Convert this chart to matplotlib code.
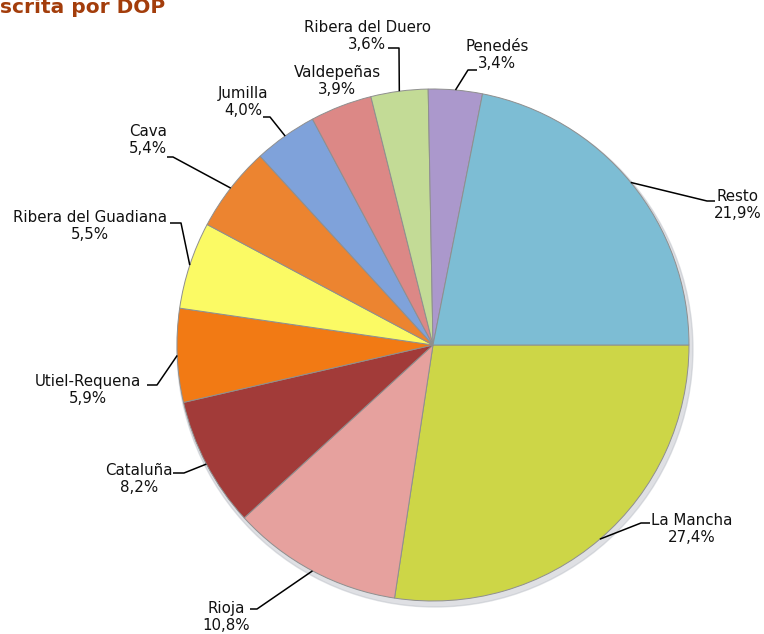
import numpy as np
import matplotlib.pyplot as plt

# data
regions = ['La Mancha', 'Rioja', 'Cataluña', 'Utiel-Requena', 'Ribera del Guadiana',
           'Cava', 'Jumilla', 'Valdepeñas', 'Ribera del Duero', 'Penedés', 'Resto']
shares = [27.4, 10.8, 8.2, 5.9, 5.5, 5.4, 4.0, 3.9, 3.6, 3.4, 21.9]
pct_labels = ['27,4%', '10,8%', '8,2%', '5,9%', '5,5%', '5,4%', '4,0%', '3,9%', '3,6%', '3,4%', '21,9%']

colors = ['#cdd647', '#e6a19e', '#a23b39', '#f27a14', '#fbfa64', '#ec8430',
          '#7fa2da', '#dc8886', '#c3db96', '#ab98cc', '#7dbdd4']

# layout (pixel coords, y measured from the top of the image)
H = 634
center = (433, 345)
R = 256
# label block centre, elbow point, end of the short horizontal run (None = no leader)
label_layout = [
    ((692, 529), (641, 523), (650, 523)),
    ((226, 617), (257, 609), (250, 609)),
    ((139, 479), (184, 473), (173, 473)),
    ((88, 390), (157, 385), (147, 385)),
    ((90, 226), (181, 223), (170, 223)),
    ((148, 140), (173, 157), (167, 157)),
    ((243, 102), (270, 117), (263, 117)),
    ((337, 81), None, None),
    ((367, 36), (399, 48), (388, 48)),
    ((497, 55), (468, 70), (477, 70)),
    ((738, 205), (707, 201), (715, 201)),
]

fig = plt.figure(figsize=(7.64, 6.34), dpi=100)
ax = fig.add_axes([0, 0, 1, 1])

# soft shadow
shadow = plt.Circle((center[0] + 2, H - center[1] - 4), R + 2, color='#b8bcc4', alpha=0.45, zorder=0)
ax.add_patch(shadow)

wedges, _ = ax.pie(shares, colors=colors, startangle=0, counterclock=False,
                   center=(center[0], H - center[1]), radius=R,
                   wedgeprops=dict(edgecolor='#8f8f8f', linewidth=0.7))
for w in wedges:
    w.set_zorder(1)

for w, name, pct, (txt, elbow, end) in zip(wedges, regions, pct_labels, label_layout):
    ax.text(txt[0], H - txt[1], name + '\n' + pct, ha='center', va='center',
            fontsize=10.8, color='#111111', linespacing=1.2, zorder=3)
    if elbow is None:
        continue
    mid = np.deg2rad((w.theta1 + w.theta2) / 2)
    px = w.center[0] + R * np.cos(mid)
    py = w.center[1] + R * np.sin(mid)
    ax.plot([px, elbow[0], end[0]], [py, H - elbow[1], H - end[1]],
            color='black', lw=1.1, zorder=2, solid_capstyle='butt')

# title, cut off at the top edge like the original
ax.text(0, H - 13, 'scrita por DOP', ha='left', va='baseline',
        fontsize=14.5, fontweight='bold', color='#a33d0b')

ax.set_xlim(0, 764)
ax.set_ylim(0, H)
ax.set_aspect('equal')
ax.axis('off')

fig.savefig('out.png', dpi=100)
